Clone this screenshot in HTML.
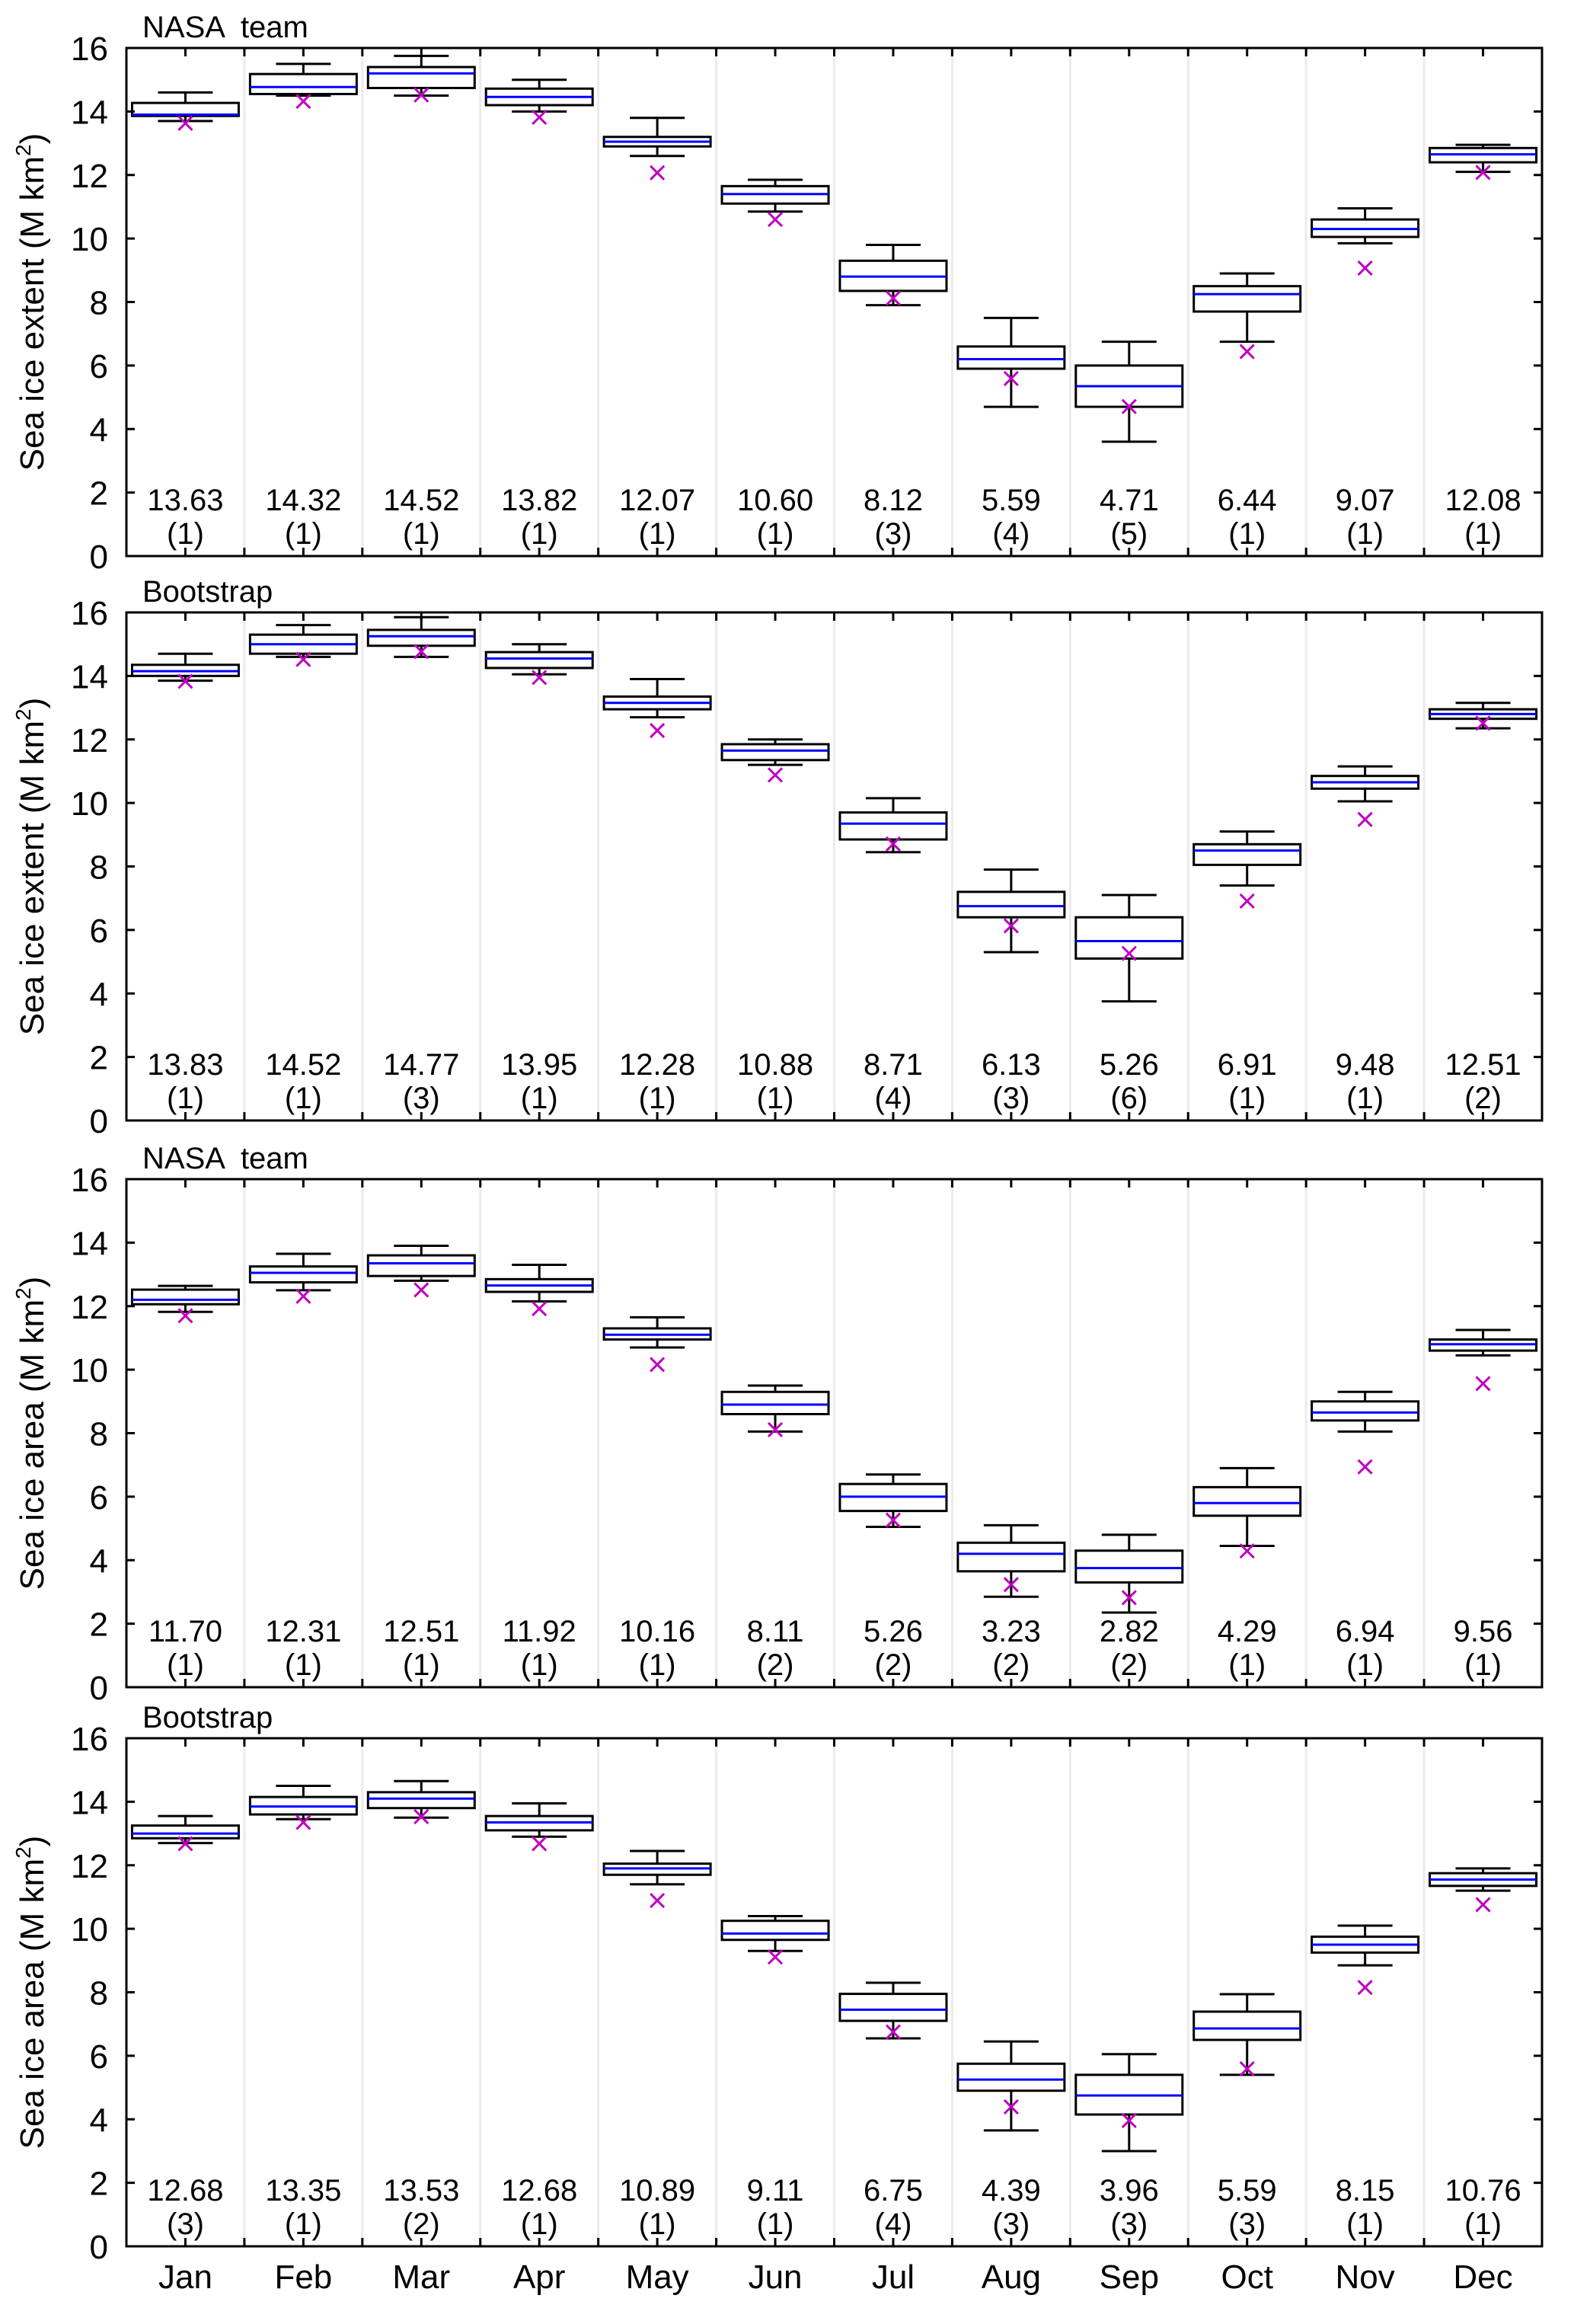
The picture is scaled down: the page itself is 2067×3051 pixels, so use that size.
<!DOCTYPE html>
<html><head><meta charset="utf-8"><style>
html,body{margin:0;padding:0;background:#fff;}
svg{display:block;font-family:"Liberation Sans",Arial,sans-serif;}
.pre{white-space:pre;}
</style></head><body>
<svg id="fig" width="2067" height="3051" viewBox="0 0 2067 3051" xmlns="http://www.w3.org/2000/svg"></svg>
<script>
const months = ["Jan","Feb","Mar","Apr","May","Jun","Jul","Aug","Sep","Oct","Nov","Dec"];
const yTicks = [0,2,4,6,8,10,12,14,16];
const panelTitles = ["NASA  team","Bootstrap","NASA  team","Bootstrap"];
const panelYLabels = ["Sea ice extent","Sea ice extent","Sea ice area","Sea ice area"];
// each row: [lowWhisker, q1, median, q3, highWhisker]
const boxesP1 = [[13.7,13.86,13.9,14.27,14.6],[14.5,14.55,14.77,15.18,15.5],[14.5,14.74,15.2,15.4,15.75],[14.0,14.2,14.46,14.72,15.0],[12.6,12.9,13.05,13.2,13.8],[10.85,11.1,11.4,11.65,11.85],[7.9,8.35,8.8,9.3,9.8],[4.7,5.9,6.2,6.6,7.5],[3.6,4.7,5.35,6.0,6.75],[6.75,7.7,8.25,8.5,8.9],[9.85,10.05,10.3,10.6,10.95],[12.1,12.4,12.65,12.85,12.95]];
const boxesP2 = [[13.85,14.0,14.15,14.35,14.7],[14.6,14.7,15.0,15.3,15.6],[14.6,14.95,15.25,15.45,15.85],[14.05,14.25,14.55,14.75,15.0],[12.7,12.95,13.15,13.35,13.9],[11.2,11.35,11.65,11.85,12.0],[8.45,8.85,9.35,9.7,10.15],[5.3,6.4,6.75,7.2,7.9],[3.75,5.1,5.65,6.4,7.1],[7.4,8.05,8.5,8.7,9.1],[10.05,10.45,10.65,10.85,11.15],[12.35,12.65,12.8,12.95,13.15]];
const boxesP3 = [[11.82,12.06,12.2,12.52,12.64],[12.5,12.75,13.05,13.25,13.65],[12.8,12.95,13.35,13.6,13.9],[12.15,12.45,12.65,12.85,13.3],[10.7,10.95,11.1,11.3,11.65],[8.05,8.6,8.9,9.3,9.5],[5.05,5.55,6.0,6.4,6.7],[2.85,3.65,4.2,4.55,5.1],[2.35,3.3,3.75,4.3,4.8],[4.45,5.4,5.8,6.3,6.9],[8.05,8.4,8.65,9.0,9.3],[10.45,10.6,10.8,10.95,11.25]];
const boxesP4 = [[12.7,12.85,13.0,13.25,13.55],[13.45,13.6,13.85,14.15,14.5],[13.5,13.8,14.1,14.3,14.65],[12.9,13.1,13.35,13.55,13.95],[11.4,11.7,11.9,12.05,12.45],[9.3,9.65,9.85,10.25,10.4],[6.55,7.1,7.45,7.95,8.3],[3.65,4.9,5.25,5.75,6.45],[3.0,4.15,4.75,5.4,6.05],[5.4,6.5,6.86,7.39,7.94],[8.85,9.25,9.5,9.75,10.1],[11.2,11.35,11.55,11.75,11.9]];
const markP1 = [13.63,14.32,14.52,13.82,12.07,10.60,8.12,5.59,4.71,6.44,9.07,12.08];
const markP2 = [13.83,14.52,14.77,13.95,12.28,10.88,8.71,6.13,5.26,6.91,9.48,12.51];
const markP3 = [11.70,12.31,12.51,11.92,10.16,8.11,5.26,3.23,2.82,4.29,6.94,9.56];
const markP4 = [12.68,13.35,13.53,12.68,10.89,9.11,6.75,4.39,3.96,5.59,8.15,10.76];
const countP1 = [1,1,1,1,1,1,3,4,5,1,1,1];
const countP2 = [1,1,3,1,1,1,4,3,6,1,1,2];
const countP3 = [1,1,1,1,1,2,2,2,2,1,1,1];
const countP4 = [3,1,2,1,1,1,4,3,3,3,1,1];

const allBoxes=[boxesP1,boxesP2,boxesP3,boxesP4];
const allMarks=[markP1,markP2,markP3,markP4];
const allCounts=[countP1,countP2,countP3,countP4];
const tops=[63,804,1548,2282];
const L=166, R=2025, PH=667, MW=(R-L)/12;
const NS="http://www.w3.org/2000/svg";
const svg=document.getElementById('fig');
function mk(tag,attrs,parent,text){const e=document.createElementNS(NS,tag);for(const k in attrs)e.setAttribute(k,attrs[k]);if(text!==undefined)e.textContent=text;(parent||svg).appendChild(e);return e;}
function line(g,x1,y1,x2,y2,st,w){return mk('line',{x1,y1,x2,y2,stroke:st,'stroke-width':w},g);}

for(let p=0;p<4;p++){
  const top=tops[p], bot=top+PH;
  const ys=v=>bot-v/16*PH;
  const xc=i=>L+(i+0.5)*MW;
  const g=mk('g',{});
  
  
  for(let i=1;i<12;i++){const gl=line(g,L+i*MW,top,L+i*MW,bot,'#ebebeb',3);}
  const t=mk('text',{x:187,y:top-14,'font-size':40,fill:'#000',class:'pre'},g,panelTitles[p]);
  
  
  const yl=mk('text',{transform:`translate(57,${(top+bot)/2}) rotate(-90)`,'text-anchor':'middle','font-size':44,fill:'#000'},g);
  
  
  mk('tspan',{},yl,panelYLabels[p]+' (M km');
  mk('tspan',{dy:-17,'font-size':28},yl,'2');
  mk('tspan',{dy:17},yl,')');
  yTicks.forEach(v=>{
    const y=ys(v);
    line(g,L,y,L+11,y,'#000',3);line(g,R,y,R-11,y,'#000',3);
    const tl=mk('text',{x:142,y:y+16,'text-anchor':'end','font-size':44,fill:'#000'},g,String(v));
    
    
  });
  for(let i=0;i<=12;i++){const x=L+i*MW;line(g,x,top,x,top+11,'#000',3);line(g,x,bot,x,bot-11,'#000',3);}
  for(let i=0;i<12;i++){const x=xc(i);line(g,x,top,x,top+11,'#000',3);line(g,x,bot,x,bot-11,'#000',3);}
  allBoxes[p].forEach((b,i)=>{
    const x=xc(i);
    const bg=mk('g',{},g);
    
    
    line(bg,x,ys(b[0]),x,ys(b[1]),'#000',3);
    line(bg,x,ys(b[3]),x,ys(b[4]),'#000',3);
    line(bg,x-36,ys(b[0]),x+36,ys(b[0]),'#000',3);
    line(bg,x-36,ys(b[4]),x+36,ys(b[4]),'#000',3);
    mk('rect',{x:x-70,y:ys(b[3]),width:140,height:ys(b[1])-ys(b[3]),fill:'none',stroke:'#000','stroke-width':3},bg);
    line(bg,x-70,ys(b[2]),x+70,ys(b[2]),'#0000ff',3);
    const m=allMarks[p][i], my=ys(m);
    const mg=mk('g',{},g);
    
    
    line(mg,x-9,my-9,x+9,my+9,'#c000c0',3);
    line(mg,x-9,my+9,x+9,my-9,'#c000c0',3);
    const vt=mk('text',{x:x,y:bot-60,'text-anchor':'middle','font-size':40,fill:'#000'},g,m.toFixed(2));
    
    
    const ct=mk('text',{x:x,y:bot-16,'text-anchor':'middle','font-size':40,fill:'#000'},g,'('+allCounts[p][i]+')');
    
    
  });
  const fr=mk('rect',{x:L,y:top,width:R-L,height:PH,fill:'none',stroke:'#000','stroke-width':3},g);
  
  
  if(p===3){
    months.forEach((mn,i)=>{
      const ml=mk('text',{x:xc(i),y:3004,'text-anchor':'middle','font-size':44,fill:'#000'},g,mn);
      
      
    });
  }
}
</script>
</body></html>
